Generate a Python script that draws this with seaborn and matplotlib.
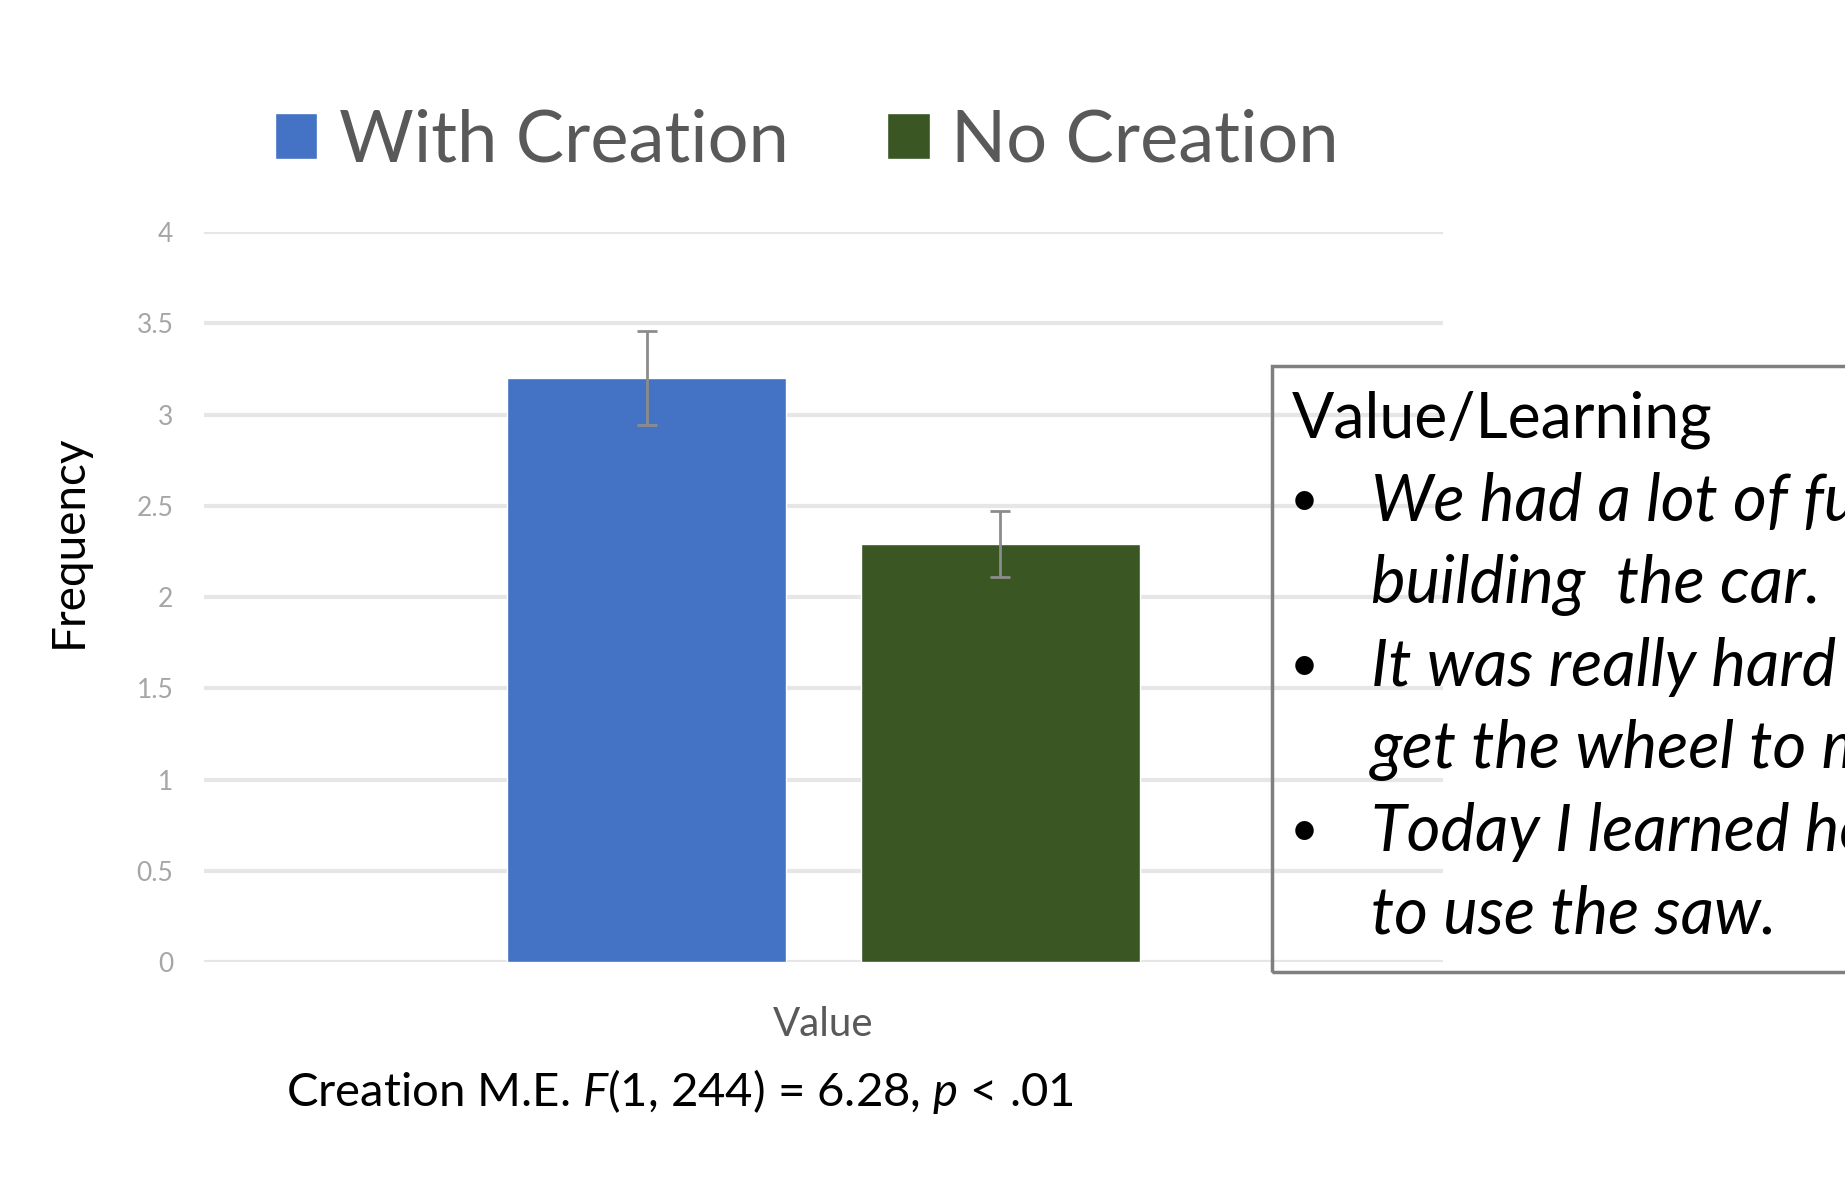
import pandas as pd
import matplotlib
matplotlib.use("Agg")
import matplotlib.pyplot as plt
from matplotlib.patches import Rectangle
import seaborn as sns

# values
groups = ["With Creation", "No Creation"]
category = ["Value", "Value"]
means = [3.2, 2.29]
errors = [0.26, 0.18]
yticks = [0, 0.5, 1, 1.5, 2, 2.5, 3, 3.5, 4]
ytick_labels = ["0", "0.5", "1", "1.5", "2", "2.5", "3", "3.5", "4"]
box_title = "Value/Learning"
quotes = [
    ["We had a lot of fun", "building  the car."],
    ["It was really hard to", "get the wheel to move."],
    ["Today I learned how", "to use the saw."],
]
stat_text = "Creation M.E. $\\mathit{F}$(1, 244) = 6.28, $\\mathit{p}$ < .01"

colors = ["#4472C4", "#3A5622"]

df = pd.DataFrame({"category": category, "group": groups, "mean": means})

sns.set_theme(style="white")
plt.rcParams["font.family"] = ["Lato", "DejaVu Sans"]
plt.rcParams["mathtext.fontset"] = "custom"
plt.rcParams["mathtext.rm"] = "Lato"
plt.rcParams["mathtext.it"] = "Lato:italic"

W, H = 1845, 1177
fig = plt.figure(figsize=(W / 100, H / 100), dpi=100)
ax = fig.add_axes([204 / W, 1 - 962 / H, 1239 / W, 730 / H])

sns.barplot(data=df, x="category", y="mean", hue="group", palette=colors,
            width=0.57, gap=0.21, saturation=1, ax=ax)

for cont, err in zip(ax.containers, errors):
    bar = cont[0]
    xc = bar.get_x() + bar.get_width() / 2
    ax.errorbar(xc, bar.get_height(), yerr=err, color="#8C8C8C", lw=2,
                capsize=7, capthick=2)

ax.set_xlim(-0.5, 0.5)
ax.set_ylim(0, 4)
ax.set_yticks(yticks)
ax.set_yticklabels(ytick_labels)
ax.yaxis.grid(True, color="#E6E6E6", lw=3)
ax.set_axisbelow(True)
sns.despine(ax=ax, left=True, bottom=True)
ax.tick_params(axis="y", length=0, pad=22, labelsize=19, labelcolor="#A6A6A6")
ax.tick_params(axis="x", length=0, pad=32, labelsize=29, labelcolor="#595959")
ax.set_xlabel("")
ax.set_ylabel("Frequency", fontsize=33, color="black")
ax.yaxis.set_label_coords(-0.092, 0.577)

sns.move_legend(ax, "center", bbox_to_anchor=(0.4866, 1.1247), ncol=2,
                frameon=False, title=None, fontsize=52,
                handlelength=0.59, handleheight=0.59, handletextpad=0.3,
                columnspacing=1.36)
for t in ax.get_legend().get_texts():
    t.set_color("#595959")

fig.text(286 / W, 1 - 1091 / H, stat_text, fontsize=34, color="black",
         ha="left", va="center")

# quote box on the right, running off the edge of the figure
fig.patches.append(Rectangle((1272 / W, 1 - 972 / H), 0.4, 606 / H,
                             transform=fig.transFigure, fill=False,
                             edgecolor="#7F7F7F", lw=2.5))
fig.text(1292 / W, 1 - 420 / H, box_title, fontsize=45, color="black",
         ha="left", va="center")
line_y = [502, 585, 667, 750, 832, 914]
i = 0
for quote in quotes:
    for j, line in enumerate(quote):
        if j == 0:
            fig.text(1304 / W, 1 - line_y[i] / H, "•", fontsize=36,
                     color="black", ha="center", va="center")
        fig.text(1371 / W, 1 - line_y[i] / H, line, fontsize=47,
                 style="italic", color="black", ha="left", va="center")
        i += 1

fig.savefig("out.png", dpi=100)
